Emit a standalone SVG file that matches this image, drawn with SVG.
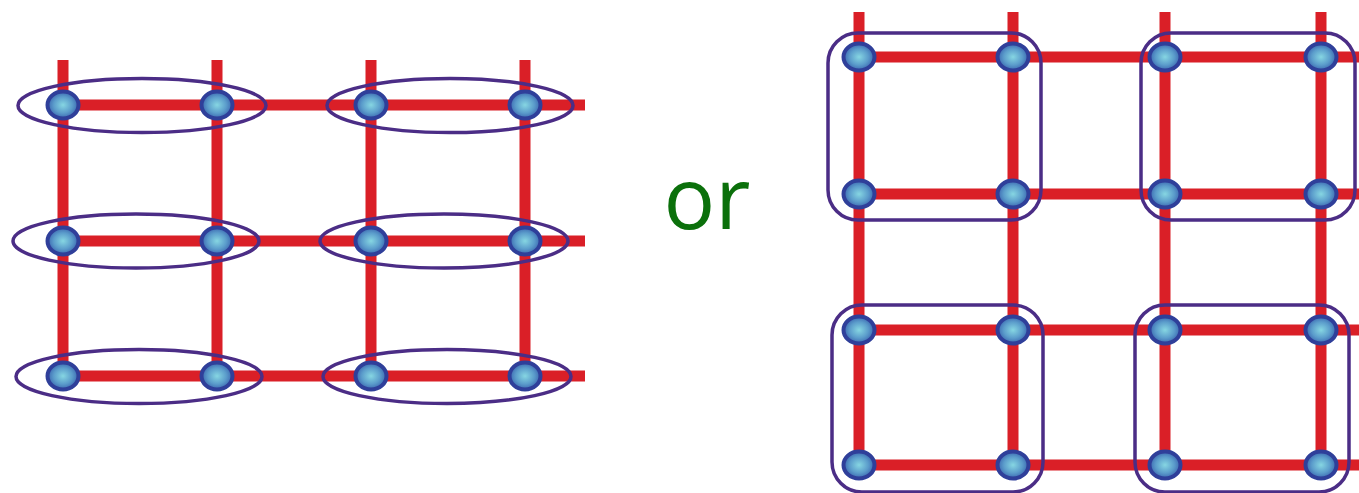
<svg xmlns="http://www.w3.org/2000/svg" width="1359" height="493" viewBox="0 0 1359 493">
<defs>
<radialGradient id="ng" cx="0.5" cy="0.5" r="0.5">
<stop offset="0" stop-color="#86d6e2"/>
<stop offset="0.6" stop-color="#5b9ccb"/>
<stop offset="1" stop-color="#3b66b0"/>
</radialGradient>
<style>
.wire{stroke:#da1f27;stroke-width:11;fill:none}
.node{fill:url(#ng);stroke:#2f3f9a;stroke-width:4}
.grp{fill:none;stroke:#4b2d86;stroke-width:3.5}
.or{font-family:"Open Sans","DejaVu Sans",sans-serif;font-weight:500;font-size:86px;fill:#0b700b}
</style>
</defs>
<g id="connectors">
<line class="wire" x1="63" y1="60" x2="63" y2="376"/>
<line class="wire" x1="217" y1="60" x2="217" y2="376"/>
<line class="wire" x1="371" y1="60" x2="371" y2="376"/>
<line class="wire" x1="525" y1="60" x2="525" y2="376"/>
<line class="wire" x1="63" y1="105" x2="585" y2="105"/>
<line class="wire" x1="63" y1="241" x2="585" y2="241"/>
<line class="wire" x1="63" y1="376" x2="585" y2="376"/>
<line class="wire" x1="859" y1="12" x2="859" y2="465"/>
<line class="wire" x1="1013" y1="12" x2="1013" y2="465"/>
<line class="wire" x1="1165" y1="12" x2="1165" y2="465"/>
<line class="wire" x1="1321" y1="12" x2="1321" y2="465"/>
<line class="wire" x1="859" y1="57" x2="1359" y2="57"/>
<line class="wire" x1="859" y1="194" x2="1359" y2="194"/>
<line class="wire" x1="859" y1="330" x2="1359" y2="330"/>
<line class="wire" x1="859" y1="465" x2="1359" y2="465"/>
</g>
<g id="groups-left">
<ellipse class="grp" cx="142" cy="105.5" rx="124" ry="27"/>
<ellipse class="grp" cx="450" cy="105.5" rx="123" ry="27"/>
<ellipse class="grp" cx="136" cy="241" rx="123" ry="27"/>
<ellipse class="grp" cx="444" cy="241" rx="124" ry="27"/>
<ellipse class="grp" cx="139" cy="376.5" rx="123" ry="27"/>
<ellipse class="grp" cx="447" cy="376.5" rx="124" ry="27"/>
</g>
<g id="groups-right">
<rect class="grp" x="828" y="33" width="213" height="187" rx="30"/>
<rect class="grp" x="1141" y="33" width="214" height="187" rx="30"/>
<rect class="grp" x="832" y="305" width="211" height="187" rx="30"/>
<rect class="grp" x="1135" y="305" width="214" height="187" rx="30"/>
</g>
<g id="nodes-left">
<ellipse class="node" cx="63" cy="105" rx="15.5" ry="13.5"/>
<ellipse class="node" cx="217" cy="105" rx="15.5" ry="13.5"/>
<ellipse class="node" cx="371" cy="105" rx="15.5" ry="13.5"/>
<ellipse class="node" cx="525" cy="105" rx="15.5" ry="13.5"/>
<ellipse class="node" cx="63" cy="241" rx="15.5" ry="13.5"/>
<ellipse class="node" cx="217" cy="241" rx="15.5" ry="13.5"/>
<ellipse class="node" cx="371" cy="241" rx="15.5" ry="13.5"/>
<ellipse class="node" cx="525" cy="241" rx="15.5" ry="13.5"/>
<ellipse class="node" cx="63" cy="376" rx="15.5" ry="13.5"/>
<ellipse class="node" cx="217" cy="376" rx="15.5" ry="13.5"/>
<ellipse class="node" cx="371" cy="376" rx="15.5" ry="13.5"/>
<ellipse class="node" cx="525" cy="376" rx="15.5" ry="13.5"/>
</g>
<g id="nodes-right">
<ellipse class="node" cx="859" cy="57" rx="15.5" ry="13.5"/>
<ellipse class="node" cx="1013" cy="57" rx="15.5" ry="13.5"/>
<ellipse class="node" cx="1165" cy="57" rx="15.5" ry="13.5"/>
<ellipse class="node" cx="1321" cy="57" rx="15.5" ry="13.5"/>
<ellipse class="node" cx="859" cy="194" rx="15.5" ry="13.5"/>
<ellipse class="node" cx="1013" cy="194" rx="15.5" ry="13.5"/>
<ellipse class="node" cx="1165" cy="194" rx="15.5" ry="13.5"/>
<ellipse class="node" cx="1321" cy="194" rx="15.5" ry="13.5"/>
<ellipse class="node" cx="859" cy="330" rx="15.5" ry="13.5"/>
<ellipse class="node" cx="1013" cy="330" rx="15.5" ry="13.5"/>
<ellipse class="node" cx="1165" cy="330" rx="15.5" ry="13.5"/>
<ellipse class="node" cx="1321" cy="330" rx="15.5" ry="13.5"/>
<ellipse class="node" cx="859" cy="465" rx="15.5" ry="13.5"/>
<ellipse class="node" cx="1013" cy="465" rx="15.5" ry="13.5"/>
<ellipse class="node" cx="1165" cy="465" rx="15.5" ry="13.5"/>
<ellipse class="node" cx="1321" cy="465" rx="15.5" ry="13.5"/>
</g>
<g id="label-or">
<text class="or" x="707" y="229" text-anchor="middle">or</text>
</g>
</svg>
